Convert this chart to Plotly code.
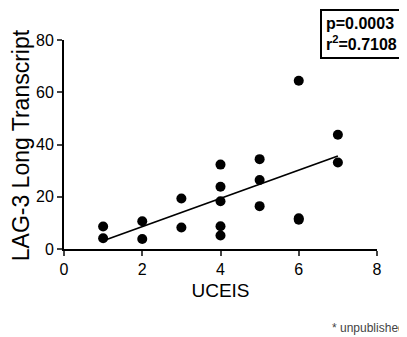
import numpy as np
import plotly.graph_objects as go

# Data
uceis = [1, 1, 2, 2, 3, 3, 4, 4, 4, 4, 4, 5, 5, 5, 6, 6, 6, 7, 7]
lag3 = [8.6, 4.1, 10.6, 3.8, 19.3, 8.2, 32.3, 23.8, 18.3, 8.7, 5.2,
        34.4, 26.4, 16.4, 64.4, 11.8, 11.2, 33.1, 43.7]
x_ticks = [0, 2, 4, 6, 8]
y_ticks = [0, 20, 40, 60, 80]
y_title = "LAG-3 Long Transcript"
x_title = "UCEIS"
stats_text = ["p=0.0003", "r<sup>2</sup>=0.7108"]
note_text = "* unpublished"

slope, intercept = np.polyfit(uceis, lag3, 1)
fit_x = [min(uceis), max(uceis)]
fit_y = [slope * v + intercept for v in fit_x]

FONT = "Liberation Sans, Arial, sans-serif"

fig = go.Figure()
fig.add_trace(go.Scatter(x=fit_x, y=fit_y, mode="lines",
                         line=dict(color="black", width=1.8),
                         hoverinfo="skip", showlegend=False))
fig.add_trace(go.Scatter(x=uceis, y=lag3, mode="markers",
                         marker=dict(color="black", size=10),
                         showlegend=False, cliponaxis=False))

# page body has an 8px margin, so the figure is sized to fit the window
fig.update_layout(
    width=399, height=329,
    margin=dict(l=56, r=30, t=32, b=88),
    paper_bgcolor="white", plot_bgcolor="white",
    font=dict(family=FONT, color="black"),
    xaxis=dict(range=[0, 8], tickvals=x_ticks, ticks="outside", ticklen=5,
               tickwidth=2, showline=True, linewidth=2, linecolor="black",
               showgrid=False, zeroline=False, tickfont=dict(size=16),
               automargin=False,
               title=dict(text=x_title, font=dict(size=19), standoff=6)),
    yaxis=dict(range=[0, 80], tickvals=y_ticks, ticks="outside", ticklen=5,
               tickwidth=2, showline=True, linewidth=2, linecolor="black",
               showgrid=False, zeroline=False, tickfont=dict(size=16),
               automargin=False),
    annotations=[
        dict(text=y_title, textangle=-90, xref="paper", yref="paper",
             x=-0.137, y=0.497, xanchor="center", yanchor="middle",
             showarrow=False, borderpad=0,
             font=dict(size=23, family=FONT, color="black")),
        dict(text="<b>" + "<br>".join(stats_text) + "</b>",
             xref="paper", yref="paper", x=0.819, y=1.146,
             xanchor="left", yanchor="top", align="left", showarrow=False,
             font=dict(size=16, family=FONT, color="black"),
             bordercolor="black", borderwidth=2, borderpad=4,
             bgcolor="white"),
        dict(text=note_text, xref="paper", yref="paper", x=1.096, y=-0.38,
             xanchor="right", yanchor="middle", showarrow=False,
             font=dict(size=12, family=FONT, color="#444")),
    ],
)

fig.write_html("out.html")
